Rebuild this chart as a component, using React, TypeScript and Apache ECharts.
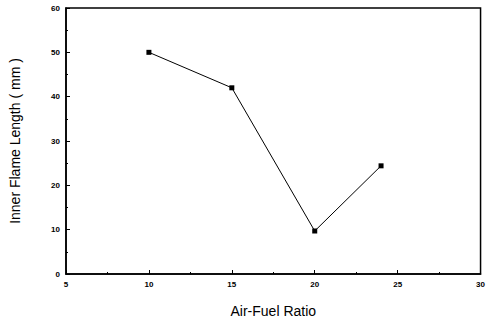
import React, { useEffect, useRef } from "react";
import * as echarts from "echarts";

const airFuelRatio = [10, 15, 20, 24];
const innerFlameLength = [50, 42, 9.7, 24.4];
const xTicks = [5, 10, 15, 20, 25, 30];
const yTicks = [0, 10, 20, 30, 40, 50, 60];

const mkLine = () => ({ show: true, onZero: false, lineStyle: { color: "#000000", width: 1.5 } });
const mkTick = () => ({ show: true, inside: true, length: 4, lineStyle: { color: "#000000", width: 1 } });
const mkMinor = () => ({ show: true, splitNumber: 2, length: 2, lineStyle: { color: "#000000", width: 1 } });
const mkLabel = () => ({
  fontFamily: "Liberation Sans, Arial",
  fontSize: 8,
  fontWeight: "bold" as const,
  color: "#000000",
  margin: 6,
});

export default function App() {
  const ref = useRef<HTMLDivElement>(null);
  useEffect(() => {
    if (!ref.current) return;
    const chart = echarts.init(ref.current, undefined, { renderer: "svg" });
    chart.setOption({
      animation: false,
      backgroundColor: "#ffffff",
      grid: { left: 65, right: 2, top: 8, bottom: 49, containLabel: false, show: true, borderColor: "#000000", borderWidth: 1.5 },
      xAxis: {
        type: "value",
        position: "bottom",
        min: xTicks[0],
        max: xTicks[xTicks.length - 1],
        interval: 5,
        name: "Air-Fuel Ratio",
        nameLocation: "middle",
        nameGap: 30,
        nameTextStyle: { fontFamily: "Liberation Sans, Arial", fontSize: 14, color: "#000000" },
        axisLine: mkLine(),
        axisTick: mkTick(),
        minorTick: mkMinor(),
        axisLabel: mkLabel(),
        splitLine: { show: false },
      },
      yAxis: {
        type: "value",
        position: "left",
        min: yTicks[0],
        max: yTicks[yTicks.length - 1],
        interval: 10,
        name: "Inner Flame Length ( mm )",
        nameLocation: "middle",
        nameGap: 44,
        nameTextStyle: { fontFamily: "Liberation Sans, Arial", fontSize: 14, color: "#000000" },
        axisLine: mkLine(),
        axisTick: mkTick(),
        minorTick: mkMinor(),
        axisLabel: mkLabel(),
        splitLine: { show: false },
      },
      series: [
        {
          type: "line",
          data: airFuelRatio.map((x, i) => [x, innerFlameLength[i]]),
          symbol: "rect",
          symbolSize: 5,
          itemStyle: { color: "#000000" },
          lineStyle: { color: "#000000", width: 1 },
        },
      ],
    });
    return () => chart.dispose();
  }, []);
  return <div ref={ref} style={{ width: 488, height: 323, position: "absolute", left: 0, top: 0 }} />;
}
